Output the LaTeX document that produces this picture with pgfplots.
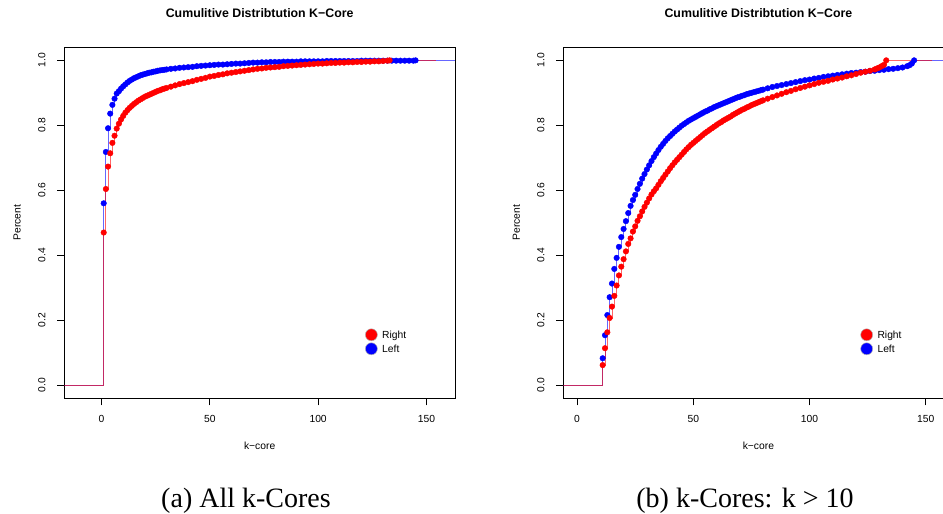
\documentclass[border=0pt]{standalone}
\usepackage{fontspec}
\setmainfont{Liberation Sans}
\newfontfamily\capfont{Liberation Serif}
\usepackage{pgfplots}
\usepackage{pgfplotstable}
\pgfplotsset{compat=1.18}

% empirical CDF of k-core values, all cores
\pgfplotstableread{
k p
1 .470
2 .604
3 .673
4 .714
5 .746
6 .768
7 .790
8 .805
9 .818
10 .829
11 .839
12 .847
13 .854
14 .860
15 .866
16 .871
17 .876
18 .880
19 .884
20 .888
21 .891
22 .894
23 .897
24 .900
25 .903
26 .906
27 .908
28 .911
29 .913
30 .915
32 .919
34 .923
36 .927
38 .930
40 .933
42 .936
44 .940
46 .943
48 .946
50 .950
52 .952
54 .955
56 .957
58 .960
60 .962
62 .964
64 .966
66 .968
68 .970
70 .972
72 .974
74 .975
76 .977
78 .978
80 .979
82 .980
84 .982
86 .983
88 .984
90 .985
92 .986
94 .987
96 .988
98 .989
100 .990
102 .990
104 .991
106 .992
108 .992
110 .993
112 .993
114 .994
116 .994
118 .995
120 .995
122 .996
124 .996
126 .997
128 .997
130 .998
132 .999
133 1.000
}\rightA

\pgfplotstableread{
k p
1 .560
2 .718
3 .791
4 .836
5 .863
6 .882
7 .898
8 .905
9 .913
10 .920
11 .926
12 .932
13 .937
14 .941
15 .945
16 .948
17 .951
18 .954
19 .956
20 .958
21 .960
22 .962
23 .963
24 .965
25 .966
26 .968
27 .969
28 .970
29 .971
30 .972
32 .974
34 .975
36 .977
38 .978
40 .979
42 .980
44 .982
46 .983
48 .984
50 .985
52 .986
54 .987
56 .987
58 .988
60 .989
62 .990
64 .990
66 .991
68 .992
70 .993
72 .993
74 .994
76 .994
78 .995
80 .995
82 .995
84 .996
86 .996
88 .996
90 .996
92 .997
94 .997
96 .997
98 .997
100 .997
102 .997
104 .998
106 .998
108 .998
110 .998
112 .998
114 .998
116 .998
118 .998
120 .999
122 .999
124 .999
126 .999
128 .999
130 .999
132 .999
134 .999
136 .999
138 .999
140 .999
142 .999
144 .999
145 1.000
}\leftA

% empirical CDF restricted to k > 10
\pgfplotstableread{
k p
11 .062
12 .114
13 .163
14 .207
15 .242
16 .275
17 .307
18 .338
19 .365
20 .388
21 .412
22 .435
23 .452
24 .473
25 .489
26 .506
27 .520
28 .535
29 .549
30 .562
31 .575
32 .587
33 .597
34 .606
35 .617
36 .628
37 .638
38 .648
39 .658
40 .668
41 .677
42 .686
43 .694
44 .702
45 .710
46 .718
47 .726
48 .733
49 .740
50 .746
51 .752
52 .758
53 .764
54 .770
55 .776
56 .781
57 .786
58 .791
59 .796
60 .801
61 .806
62 .810
63 .815
64 .819
65 .823
66 .827
67 .832
68 .836
69 .840
70 .844
71 .848
72 .851
73 .855
74 .858
75 .862
76 .865
77 .868
78 .871
79 .874
80 .877
82 .882
84 .887
86 .892
88 .897
90 .902
92 .906
94 .911
96 .915
98 .919
100 .923
102 .927
104 .931
106 .934
108 .937
110 .941
112 .944
114 .947
116 .951
118 .954
120 .958
122 .962
124 .965
126 .968
128 .972
129 .975
130 .978
131 .982
132 .986
133 1.000
}\rightB

\pgfplotstableread{
k p
11 .083
12 .154
13 .216
14 .271
15 .313
16 .358
17 .392
18 .426
19 .456
20 .481
21 .505
22 .530
23 .552
24 .570
25 .586
26 .604
27 .620
28 .636
29 .650
30 .664
31 .677
32 .690
33 .702
34 .713
35 .724
36 .734
37 .743
38 .752
39 .760
40 .767
41 .774
42 .781
43 .787
44 .793
45 .799
46 .804
47 .809
48 .814
49 .818
50 .822
51 .826
52 .830
53 .834
54 .838
55 .842
56 .845
57 .849
58 .852
59 .856
60 .859
61 .862
62 .865
63 .868
64 .871
65 .874
66 .877
67 .880
68 .883
69 .886
70 .888
71 .891
72 .893
73 .896
74 .898
75 .900
76 .902
77 .904
78 .906
79 .908
80 .910
82 .914
84 .918
86 .921
88 .924
90 .927
92 .930
94 .933
96 .936
98 .939
100 .941
102 .944
104 .946
106 .949
108 .951
110 .953
112 .955
114 .957
116 .959
118 .961
120 .962
122 .964
124 .965
126 .967
128 .968
130 .970
132 .971
134 .973
136 .974
138 .976
140 .978
142 .982
143 .985
144 .990
145 1.000
}\leftB

\pgfplotsset{
  ecdfaxis/.style={
    scale only axis,
    height=351pt,
    ymin=-0.0402, ymax=1.0402,
    axis line style={line width=0.9pt, black},
    tick align=outside,
    major tick length=7pt,
    tick style={line width=0.9pt, black},
    xtick={0,50,100,150},
    ytick={0,0.2,0.4,0.6,0.8,1},
    xtick pos=bottom, ytick pos=left,
    /pgf/number format/assume math mode=true,
    ticklabel style={font=\fontsize{10.3}{12}\selectfont, inner sep=0pt},
    xticklabel style={anchor=north},
    yticklabel style={rotate=90, anchor=south,
      /pgf/number format/fixed, /pgf/number format/fixed zerofill,
      /pgf/number format/precision=1},
    xticklabel shift=10pt,
    yticklabel shift=11.6pt,
    title={Cumulitive Distribtution K−Core},
    title style={at={(0.5,1.0684)}, anchor=base,
      font=\bfseries\fontsize{12.35}{14}\selectfont},
    xlabel={k−core},
    xlabel style={at={(0.5,-0.1473)}, anchor=base, font=\fontsize{10.3}{12}\selectfont},
    ylabel={Percent},
    ylabel style={at={(-0.1116,0.5)}, rotate=0, anchor=base, font=\fontsize{10.3}{12}\selectfont},
    legend style={draw=none, fill=none, inner sep=0pt, outer sep=0pt,
      row sep=1.5pt, column sep=4.6pt,
      nodes={inner sep=0pt, font=\fontsize{10.3}{12}\selectfont}},
    legend cell align=left,
  },
  stepline/.style={const plot, no marks, line width=0.9pt, opacity=0.6},
  dots/.style={only marks, mark=*, mark size=2.8pt},
  keydot/.style={legend image code/.code={\filldraw[fill=#1, draw=gray!60, line width=0.5pt] (6pt,1.2pt) circle (6pt);}},
}

\begin{document}
\begin{tikzpicture}
\path[use as bounding box] (0pt,0pt) rectangle (943pt,514pt);

% (a) all cores
\begin{axis}[ecdfaxis, at={(64.3pt,115.7pt)}, anchor=south west,
  width=390.7pt, xmin=-17.2, xmax=163.2,
  legend style={at={(axis cs:121.7,0.1745)}, anchor=north west}]
\addlegendimage{keydot=red}
\addlegendentry{Right}
\addlegendimage{keydot=blue}
\addlegendentry{Left}
\addplot[stepline, blue, forget plot] coordinates {(-17.2,0) (1,0.560)};
\addplot[stepline, blue, forget plot] table[x=k, y=p] {\leftA};
\addplot[stepline, blue, forget plot] coordinates {(145,1) (163.2,1)};
\addplot[dots, blue, forget plot] table[x=k, y=p] {\leftA};
\addplot[stepline, red, forget plot] coordinates {(-17.2,0) (1,0.470)};
\addplot[stepline, red, forget plot] table[x=k, y=p] {\rightA};
\addplot[stepline, red, forget plot] coordinates {(133,1) (154.4,1)};
\addplot[dots, red, forget plot] table[x=k, y=p] {\rightA};
\end{axis}

% (b) cores with k > 10
\begin{axis}[ecdfaxis, at={(563.3pt,115.7pt)}, anchor=south west,
  width=390.2pt, xmin=-5.94, xmax=161.94,
  legend style={at={(axis cs:121.9,0.1745)}, anchor=north west}]
\addlegendimage{keydot=red}
\addlegendentry{Right}
\addlegendimage{keydot=blue}
\addlegendentry{Left}
\addplot[stepline, blue, forget plot] coordinates {(-5.94,0) (11,0.083)};
\addplot[stepline, blue, forget plot] table[x=k, y=p] {\leftB};
\addplot[stepline, blue, forget plot] coordinates {(145,1) (161.94,1)};
\addplot[dots, blue, forget plot] table[x=k, y=p] {\leftB};
\addplot[stepline, red, forget plot] coordinates {(-5.94,0) (11,0.062)};
\addplot[stepline, red, forget plot] table[x=k, y=p] {\rightB};
\addplot[stepline, red, forget plot] coordinates {(133,1) (152.5,1)};
\addplot[dots, red, forget plot] table[x=k, y=p] {\rightB};
\end{axis}

\node[anchor=base, font=\capfont\fontsize{28}{30}\selectfont] at (246pt,6pt) {(a) All k-Cores};
\node[anchor=base, font=\capfont\fontsize{28}{30}\selectfont] at (745pt,6pt) {(b) k-Cores: k > 10};
\end{tikzpicture}
\end{document}
